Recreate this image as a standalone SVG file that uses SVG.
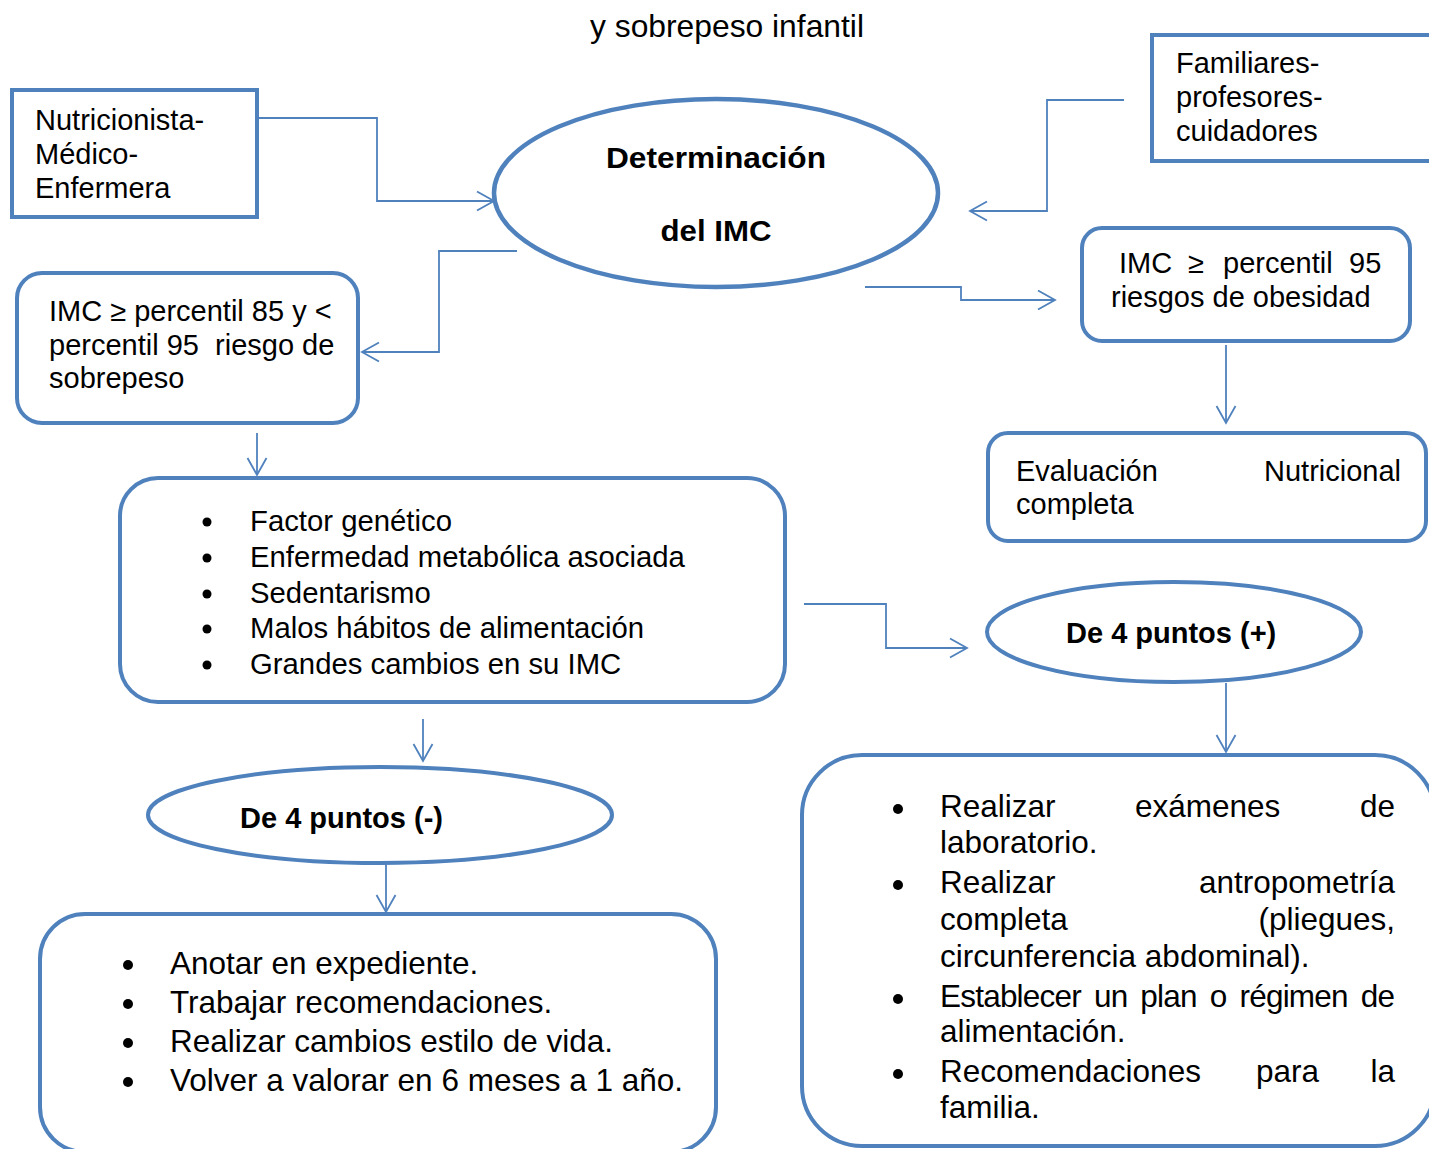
<svg xmlns="http://www.w3.org/2000/svg" width="1429" height="1149" viewBox="0 0 1429 1149">
<style>
.n{fill:#fff;stroke:#4F81BD;stroke-width:4}
.c{fill:none;stroke:#4F81BD;stroke-width:1.8}
.t{font-family:"Liberation Sans",Arial,sans-serif;fill:#000}
.s29{font-size:29px}
.s31{font-size:31.5px}
.b{font-weight:bold}
.dot{fill:#000}
</style>
<defs>
<marker id="ah" markerUnits="userSpaceOnUse" markerWidth="20" markerHeight="22" viewBox="0 0 20 22" refX="18" refY="11" orient="auto">
<path d="M1,1.5 L18,11 L1,20.5" fill="none" stroke="#4F81BD" stroke-width="1.8"/>
</marker>
</defs>
<rect width="1429" height="1149" fill="#fff"/>
<text class="t" x="590" y="37" style="font-size:31.8px">y sobrepeso infantil</text>

<g id="connectors">
<path class="c" d="M257,118 H377 V201 H494" marker-end="url(#ah)"/>
<path class="c" d="M1124,100 H1047 V211 H970" marker-end="url(#ah)"/>
<path class="c" d="M517,251 H439 V352 H362" marker-end="url(#ah)"/>
<path class="c" d="M865,287 H961 V300 H1055" marker-end="url(#ah)"/>
<path class="c" d="M1226,345 V423" marker-end="url(#ah)"/>
<path class="c" d="M257,433 V475" marker-end="url(#ah)"/>
<path class="c" d="M804,604 H886 V648 H967" marker-end="url(#ah)"/>
<path class="c" d="M1226,683 V752" marker-end="url(#ah)"/>
<path class="c" d="M423,719 V761" marker-end="url(#ah)"/>
<path class="c" d="M386,864 V912" marker-end="url(#ah)"/>
</g>

<g id="nutricionista">
<rect class="n" x="12" y="90" width="245" height="127"/>
<text class="t s29" x="35" y="130">Nutricionista-</text>
<text class="t s29" x="35" y="164">Médico-</text>
<text class="t s29" x="35" y="198">Enfermera</text>
</g>

<g id="determinacion">
<ellipse class="n" cx="716" cy="193" rx="222" ry="94" style="stroke-width:4.5"/>
<text class="t s29 b" x="716" y="168" text-anchor="middle" textLength="220" lengthAdjust="spacingAndGlyphs">Determinación</text>
<text class="t s29 b" x="716" y="241" text-anchor="middle" textLength="111" lengthAdjust="spacingAndGlyphs">del IMC</text>
</g>

<g id="familiares">
<rect class="n" x="1152" y="35" width="300" height="126"/>
<text class="t s29" x="1176" y="73">Familiares-</text>
<text class="t s29" x="1176" y="107">profesores-</text>
<text class="t s29" x="1176" y="141">cuidadores</text>
</g>

<g id="imc95">
<rect class="n" x="1082" y="228" width="328" height="113" rx="20"/>
<text class="t s29" y="273"><tspan x="1119">IMC</tspan><tspan x="1188">≥</tspan><tspan x="1223">percentil</tspan><tspan x="1349">95</tspan></text>
<text class="t s29" x="1111" y="307">riesgos de obesidad</text>
</g>

<g id="imc85">
<rect class="n" x="17" y="273" width="341" height="150" rx="25"/>
<text class="t s29" x="49" y="321">IMC ≥ percentil 85 y &lt;</text>
<text class="t s29" x="49" y="355" style="white-space:pre">percentil 95  riesgo de</text>
<text class="t s29" x="49" y="388">sobrepeso</text>
</g>

<g id="evaluacion">
<rect class="n" x="988" y="433" width="438" height="108" rx="20"/>
<text class="t s29" x="1016" y="481">Evaluación</text>
<text class="t s29" x="1401" y="481" text-anchor="end">Nutricional</text>
<text class="t s29" x="1016" y="514">completa</text>
</g>

<g id="factores">
<rect class="n" x="120" y="478" width="665" height="224" rx="38"/>
<circle class="dot" cx="207" cy="522" r="4.5"/>
<circle class="dot" cx="207" cy="558" r="4.5"/>
<circle class="dot" cx="207" cy="594" r="4.5"/>
<circle class="dot" cx="207" cy="629" r="4.5"/>
<circle class="dot" cx="207" cy="665" r="4.5"/>
<text class="t" style="font-size:29.3px" x="250" y="531">Factor genético</text>
<text class="t" style="font-size:29.3px" x="250" y="567">Enfermedad metabólica asociada</text>
<text class="t" style="font-size:29.3px" x="250" y="603">Sedentarismo</text>
<text class="t" style="font-size:29.3px" x="250" y="638">Malos hábitos de alimentación</text>
<text class="t" style="font-size:29.3px" x="250" y="674">Grandes cambios en su IMC</text>
</g>

<g id="puntos-mas">
<ellipse class="n" cx="1174" cy="632" rx="187" ry="50"/>
<text class="t s29 b" x="1066" y="643">De 4 puntos (+)</text>
</g>

<g id="puntos-menos">
<ellipse class="n" cx="380" cy="815" rx="232" ry="48"/>
<text class="t s29 b" x="240" y="828">De 4 puntos (-)</text>
</g>

<g id="acciones-menos">
<rect class="n" x="40" y="914" width="676" height="238" rx="45"/>
<circle class="dot" cx="128" cy="965" r="5"/>
<circle class="dot" cx="128" cy="1004" r="5"/>
<circle class="dot" cx="128" cy="1043" r="5"/>
<circle class="dot" cx="128" cy="1082" r="5"/>
<text class="t s31" x="170" y="974">Anotar en expediente.</text>
<text class="t s31" x="170" y="1013">Trabajar recomendaciones.</text>
<text class="t s31" x="170" y="1052">Realizar cambios estilo de vida.</text>
<text class="t s31" x="170" y="1091">Volver a valorar en 6 meses a 1 año.</text>
</g>

<g id="acciones-mas">
<rect class="n" x="802" y="755" width="633" height="391" rx="60"/>
<circle class="dot" cx="898" cy="809" r="5"/>
<circle class="dot" cx="898" cy="885" r="5"/>
<circle class="dot" cx="898" cy="999" r="5"/>
<circle class="dot" cx="898" cy="1074" r="5"/>
<text class="t s31" y="817"><tspan x="940">Realizar</tspan><tspan x="1135">exámenes</tspan></text>
<text class="t s31" x="1395" y="817" text-anchor="end">de</text>
<text class="t s31" x="940" y="853">laboratorio.</text>
<text class="t s31" x="940" y="893">Realizar</text>
<text class="t s31" x="1395" y="893" text-anchor="end">antropometría</text>
<text class="t s31" x="940" y="930">completa</text>
<text class="t s31" x="1395" y="930" text-anchor="end">(pliegues,</text>
<text class="t s31" x="940" y="967">circunferencia abdominal).</text>
<text class="t s31" x="940" y="1007" textLength="455" lengthAdjust="spacing" style="word-spacing:5px">Establecer un plan o régimen de</text>
<text class="t s31" x="940" y="1042">alimentación.</text>
<text class="t s31" y="1082"><tspan x="940">Recomendaciones</tspan><tspan x="1256">para</tspan></text>
<text class="t s31" x="1395" y="1082" text-anchor="end">la</text>
<text class="t s31" x="940" y="1118">familia.</text>
</g>
</svg>
